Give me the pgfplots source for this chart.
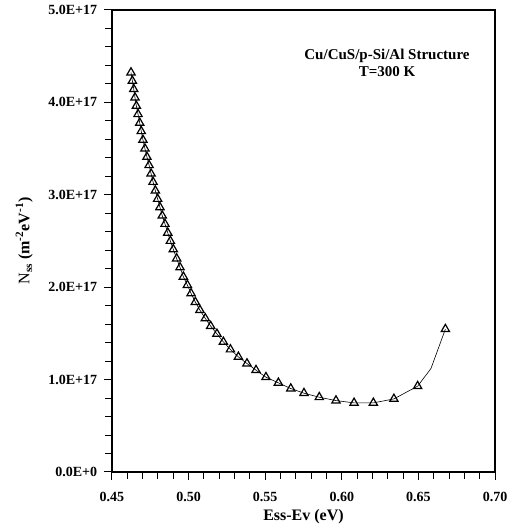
\documentclass[border=0pt]{standalone}
\usepackage{fontspec}
\setmainfont{Liberation Serif}
\usepackage{pgfplots}
\pgfplotsset{compat=1.18}
\begin{document}
\fontsize{14}{16}\selectfont
\begin{tikzpicture}
\begin{axis}[
  at={(0,0)}, anchor=south west,
  scale only axis, width=383pt, height=462pt,
  xmin=0.45, xmax=0.70, ymin=0, ymax=5,
  xtick={0.45,0.50,0.55,0.60,0.65,0.70},
  xticklabels={0.45,0.50,0.55,0.60,0.65,0.70},
  ytick={0,1,2,3,4,5},
  yticklabels={0.0E+0,1.0E+17,2.0E+17,3.0E+17,4.0E+17,5.0E+17},
  minor x tick num=4, minor y tick num=4,
  xtick pos=left, ytick pos=left,
  tick align=outside,
  major tick length=8pt, minor tick length=7pt,
  every tick/.style={black, line width=1pt},
  axis line style={line width=1.2pt},
  ticklabel style={font=\fontsize{14}{16}\selectfont\bfseries},
  xticklabel style={yshift=-7pt},
  yticklabel style={xshift=-2pt},
  xlabel={\textbf{Ess-Ev (eV)}},
  ylabel={N\textsubscript{\bfseries ss} \textbf{(m\textsuperscript{-2}eV\textsuperscript{-1})}},
  xlabel style={font=\fontsize{16}{18}\selectfont, at={(axis description cs:0.5,0)}, anchor=center, yshift=-45pt},
  ylabel style={font=\fontsize{16}{18}\selectfont, at={(axis description cs:-0.229,0.5)}, anchor=center},
  clip=false,
]
\addplot[black, line width=0.6pt] coordinates {
(0.4624,4.323)(0.4633,4.233)(0.4642,4.143)(0.4650,4.052)(0.4659,3.962)
(0.4670,3.872)(0.4681,3.778)(0.4691,3.688)(0.4702,3.594)(0.4715,3.500)
(0.4728,3.410)(0.4742,3.320)(0.4755,3.229)(0.4768,3.139)(0.4783,3.045)
(0.4798,2.955)(0.4813,2.865)(0.4828,2.774)(0.4846,2.684)(0.4864,2.589)
(0.4881,2.500)(0.4900,2.410)(0.4922,2.310)(0.4944,2.214)(0.4966,2.113)
(0.4992,2.023)(0.5016,1.933)(0.5044,1.839)(0.5074,1.752)(0.5109,1.662)
(0.5144,1.579)(0.5185,1.495)(0.5227,1.408)(0.5273,1.326)(0.5325,1.246)
(0.5381,1.174)(0.5440,1.102)(0.5505,1.026)(0.5586,0.965)(0.5667,0.903)
(0.5753,0.853)(0.5853,0.809)(0.5962,0.773)(0.6080,0.748)(0.6206,0.748)
(0.6340,0.791)(0.6495,0.929)(0.6582,1.120)(0.6676,1.546)
};
\addplot[only marks, mark=triangle, mark size=4.8pt, mark options={black, line width=1.2pt}] coordinates {
(0.4624,4.323)(0.4633,4.233)(0.4642,4.143)(0.4650,4.052)(0.4659,3.962)
(0.4670,3.872)(0.4681,3.778)(0.4691,3.688)(0.4702,3.594)(0.4715,3.500)
(0.4728,3.410)(0.4742,3.320)(0.4755,3.229)(0.4768,3.139)(0.4783,3.045)
(0.4798,2.955)(0.4813,2.865)(0.4828,2.774)(0.4846,2.684)(0.4864,2.589)
(0.4881,2.500)(0.4900,2.410)(0.4922,2.310)(0.4944,2.214)(0.4966,2.113)
(0.4992,2.023)(0.5016,1.933)(0.5044,1.839)(0.5074,1.752)(0.5109,1.662)
(0.5144,1.579)(0.5185,1.495)(0.5227,1.408)(0.5273,1.326)(0.5325,1.246)
(0.5381,1.174)(0.5440,1.102)(0.5505,1.026)(0.5586,0.965)(0.5667,0.903)
(0.5753,0.853)(0.5853,0.809)(0.5962,0.773)(0.6080,0.748)(0.6206,0.748)
(0.6340,0.791)(0.6495,0.929)(0.6676,1.546)
};
\node[align=center, font=\fontsize{15}{17}\selectfont\bfseries] at (axis cs:0.6295,4.43) {Cu/CuS/p-Si/Al Structure\\T=300 K};
\end{axis}
\path (-112pt,-57pt) rectangle (401pt,472pt);
\end{tikzpicture}
\end{document}
